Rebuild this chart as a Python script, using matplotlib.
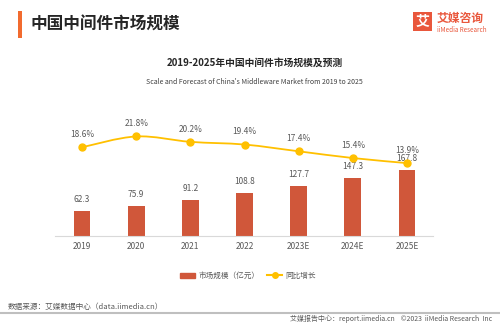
import matplotlib.pyplot as plt
import numpy as np
from matplotlib.path import Path
from matplotlib.patches import PathPatch, Rectangle
from matplotlib.lines import Line2D

plt.rcParams['font.family'] = ['Noto Sans CJK SC', 'DejaVu Sans']

years = ['2019', '2020', '2021', '2022', '2023E', '2024E', '2025E']
market_size = [62.3, 75.9, 91.2, 108.8, 127.7, 147.3, 167.8]
growth = [18.6, 21.8, 20.2, 19.4, 17.4, 15.4, 13.9]

BAR = '#D0573A'
LINE = '#FFC000'
GRAY = '#595959'

fig = plt.figure(figsize=(5, 3.24), dpi=100)

# header
fig.add_artist(Rectangle((18 / 500, 1 - 38 / 324), 4 / 500, 27 / 324,
                         transform=fig.transFigure, color='#F26B2F', lw=0))
fig.text(30 / 500, 1 - 25 / 324, '中国中间件市场规模', fontsize=12,
         fontweight='bold', color='#262626', va='center')

# logo
fig.add_artist(Rectangle((413 / 500, 1 - 31 / 324), 19 / 500, 19 / 324,
                         transform=fig.transFigure, color='#E9573C', lw=0))
fig.text(422.5 / 500, 1 - 21.5 / 324, '艾', fontsize=10, fontweight='bold',
         color='white', ha='center', va='center')
fig.text(437 / 500, 1 - 18 / 324, '艾媒咨询', fontsize=8.5, fontweight='bold',
         color='#E9573C', va='center')
fig.text(437 / 500, 1 - 30 / 324, 'iiMedia Research', fontsize=4.5,
         color='#E9573C', va='center')

# chart titles
fig.text(255 / 500, 1 - 63 / 324, '2019-2025年中国中间件市场规模及预测',
         fontsize=7, fontweight='bold', color='#262626', ha='center', va='center')
fig.text(254 / 500, 1 - 82 / 324,
         "Scale and Forecast of China's Middleware Market from 2019 to 2025",
         fontsize=5, color='#404040', ha='center', va='center')

ax = fig.add_axes([55 / 500, 1 - 236 / 324, 378 / 500, 136 / 324])
x = np.arange(len(years))
ax.bar(x, market_size, width=0.31, color=BAR, zorder=2)
ax.set_xlim(-0.5, 6.48)
ax.set_ylim(0, 344)
for xi, v in zip(x, market_size):
    ax.annotate(f'{v:.1f}', (xi, v), xytext=(0, 5), textcoords='offset points',
                ha='center', va='bottom', fontsize=6, color=GRAY)
ax.set_xticks(x)
ax.set_xticklabels(years, fontsize=6, color=GRAY)
ax.tick_params(axis='x', length=0, pad=4)
ax.set_yticks([])
for s in ['top', 'right', 'left']:
    ax.spines[s].set_visible(False)
ax.spines['bottom'].set_color('#D9D9D9')
ax.spines['bottom'].set_linewidth(0.8)

ax2 = ax.twinx()
ax2.set_ylim(-7.7, 32.6)
ax2.set_yticks([])
for s in ax2.spines.values():
    s.set_visible(False)

# smoothed growth line (cubic bezier through the data points)
pts = np.column_stack([x, growth]).astype(float)
verts = [pts[0]]
codes = [Path.MOVETO]
for i in range(len(pts) - 1):
    p0 = pts[max(i - 1, 0)]
    p1 = pts[i]
    p2 = pts[i + 1]
    p3 = pts[min(i + 2, len(pts) - 1)]
    verts += [p1 + (p2 - p0) / 6, p2 - (p3 - p1) / 6, p2]
    codes += [Path.CURVE4] * 3
ax2.add_patch(PathPatch(Path(verts, codes), fill=False, edgecolor=LINE,
                        lw=1.3, zorder=3))
ax2.plot(x, growth, 'o', color=LINE, ms=5, zorder=4)
for xi, v in zip(x, growth):
    ax2.annotate(f'{v:.1f}%', (xi, v), xytext=(0, 6), textcoords='offset points',
                 ha='center', va='bottom', fontsize=6, color=GRAY)

# legend
handles = [Rectangle((0, 0), 1, 1, color=BAR),
           Line2D([], [], color=LINE, lw=1.5, marker='o', ms=4)]
fig.legend(handles, ['市场规模（亿元）', '同比增长'], loc='center',
           bbox_to_anchor=(248 / 500, 1 - 276 / 324), ncol=2, frameon=False,
           fontsize=5.5, handlelength=2, handleheight=0.6, columnspacing=1,
           handletextpad=0.4, labelcolor=GRAY)

# footer
fig.text(8 / 500, 1 - 307 / 324, '数据来源：艾媒数据中心（data.iimedia.cn）',
         fontsize=5.5, color=GRAY, va='center')
fig.add_artist(Line2D([0, 1], [1 - 313 / 324] * 2, transform=fig.transFigure,
                      color='#BFBFBF', lw=1.5))
fig.text(492 / 500, 1 - 318.5 / 324,
         '艾媒报告中心：report.iimedia.cn    ©2023  iiMedia Research  Inc',
         fontsize=5, color=GRAY, ha='right', va='center')

fig.savefig('out.png', dpi=100)
